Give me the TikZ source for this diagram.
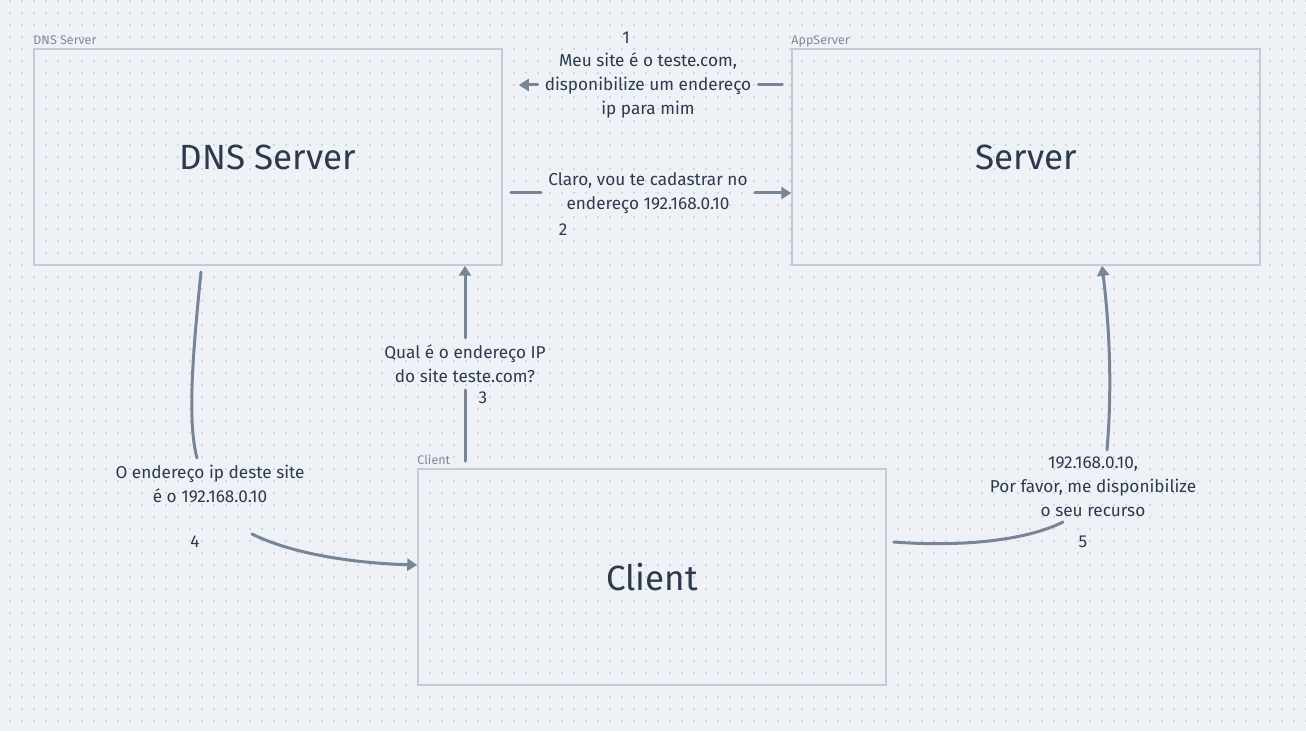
\documentclass[tikz,border=0pt]{standalone}
\usepackage{fontspec}
\setmainfont{Fira Sans}
\usetikzlibrary{positioning}
\usetikzlibrary{arrows.meta}
\definecolor{paper}{HTML}{EEF2F6}
\definecolor{speck}{HTML}{CFD6DE}
\definecolor{frame}{HTML}{C3CCD6}
\definecolor{wire}{HTML}{768696}
\definecolor{ink}{HTML}{2C3A4B}
\definecolor{faint}{HTML}{7E8A97}

\begin{document}
\begin{tikzpicture}
			[
				x = 1pt, y = 1pt,
				box/.style = {rectangle, minimum width = 468pt, minimum height = 216pt, draw = frame, line width = 1.5pt, inner sep = 0pt},
				title/.style = {font = \fontsize{35}{40}\selectfont, text = ink},
				tag/.style = {font = \fontsize{12.5}{14}\selectfont, text = faint, anchor = base west, inner sep = 0pt},
				msg/.style = {font = \fontsize{17.2}{24}\selectfont, text = ink, align = center, inner sep = 7pt},
				num/.style = {font = \fontsize{17.2}{24}\selectfont, text = ink},
				flow/.style = {draw = wire, line width = 3pt, line cap = round},
				tip/.style = {-{Triangle[length = 10pt, width = 12pt]}},
				specks/.style = {draw = speck, line width = 1.8pt, dash pattern = on 1.8pt off 10.2pt},
			]
			\fill [paper] (0,0) rectangle (1306,731);
			\useasboundingbox (0,0) rectangle (1306,731);
			\foreach \k in {0,...,60}
				\draw [specks] (9,730-12*\k) -- (1306,730-12*\k);

			% the three machines
			\node (dns) [box] at (268,574) {};
			\node (app) [box] at (1026,574) {};
			\node (client) [box] at (652,154) {};
			\node (dnstag) [tag] at ([yshift = 4pt]dns.north west) {DNS Server};
			\node (apptag) [tag] at ([yshift = 4pt]app.north west) {AppServer};
			\node (clienttag) [tag] at ([yshift = 4pt]client.north west) {Client};
			\node (dnsname) [title] at (dns) {DNS Server};
			\node (appname) [title] at (app) {Server};
			\node (clientname) [title] at (client) {Client};

			% messages
			\node (msg1) [msg] at (648,646) {Meu site é o teste.com,\\disponibilize um endereço\\ip para mim};
			\node (msg2) [msg] at (648,538) {Claro, vou te cadastrar no\\endereço 192.168.0.10};
			\node (msg3) [msg] at (465,367) {Qual é o endereço IP\\do site teste.com?};
			\node (msg4) [msg] at (210,247) {O endereço ip deste site\\é o 192.168.0.10};
			\node (msg5) [msg] at (1093,244) {192.168.0.10,\\Por favor, me disponibilize\\o seu recurso};
			\node (n1) [num] at (626,693) {1};
			\node (n2) [num] at (563,501) {2};
			\node (n3) [num] at (483,333) {3};
			\node (n4) [num] at (195,189) {4};
			\node (n5) [num] at (1083,189) {5};

			\coordinate (d4) at (201,459);
			\coordinate (m4a) at (197,273);
			\coordinate (m4b) at (252,197);
			\coordinate (m5a) at (1063,209);
			\coordinate (d5) at (1107,281);

			\draw [flow, shorten <= 9pt] (app.west |- msg1) -- (msg1.east);
			\draw [flow, tip, shorten >= 16pt] (msg1.west) -- (dns.east |- msg1);
			\draw [flow, shorten <= 8pt] (dns.east |- msg2) -- (msg2.west);
			\draw [flow, tip] (msg2.east) -- (app.west |- msg2);
			\draw [flow, shorten <= 7pt] (client.north -| msg3) -- (msg3.south);
			\draw [flow, tip] (msg3.north) -- (dns.south -| msg3);
			\draw [flow] (d4) .. controls (193,380) and (187,310) .. (m4a);
			\draw [flow, tip] (m4b) .. controls (290,178) and (350,168) .. ([yshift = 12pt]client.west);
			\draw [flow] ([xshift = 7pt, yshift = 35pt]client.east) .. controls (960,184) and (1025,190) .. (m5a);
			\draw [flow, tip] (d5) .. controls (1112,340) and (1110,400) .. ([xshift = 76pt]app.south);
		\end{tikzpicture}
\end{document}
